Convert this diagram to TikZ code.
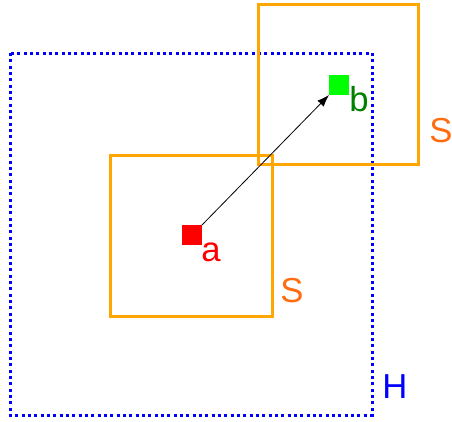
\documentclass[tikz,border=0pt]{standalone}
\usepackage{fontspec}
\setmainfont{Liberation Sans}
\usetikzlibrary{arrows.meta}
\definecolor{boxorange}{RGB}{255,166,0}
\definecolor{labelorange}{RGB}{255,108,16}
\definecolor{darkgreen}{RGB}{0,128,0}
\tikzset{
  region/.style={draw=boxorange, line width=2.25pt},
  hull/.style={draw=blue, line width=2.25pt, dash pattern=on 2.25pt off 2.5pt},
  point/.style={minimum size=15pt, inner sep=0pt, outer sep=0pt},
  lbl/.style={inner sep=0pt, anchor=base west, font=\fontsize{26}{30}\selectfont},
}
\begin{document}
\begin{tikzpicture}[x=0.75pt, y=-0.75pt]
  \useasboundingbox (0,0) rectangle (452,421);
  % hull H (dotted)
  \draw[hull] (10,53) rectangle (372,415);
  % the two square regions S
  \draw[region] (110,155) rectangle (272,316);
  \draw[region] (258,4) rectangle (418,164);
  % points a and b
  \node[point, fill=red] (a) at (192,235) {};
  \node[point, fill=green] (b) at (339,85) {};
  \draw[line width=0.6pt, -{Latex[length=9pt, width=6.5pt]}] (a.north east) -- (b.south west);
  % labels
  \node[lbl, text=red] (la) at (201,261) {a};
  \node[lbl, text=darkgreen] (lb) at (349,111) {b};
  \node[lbl, text=labelorange] (ls1) at (280,302) {S};
  \node[lbl, text=labelorange] (ls2) at (429,142) {S};
  \node[lbl, text=blue] (lh) at (382,398) {H};
\end{tikzpicture}
\end{document}
